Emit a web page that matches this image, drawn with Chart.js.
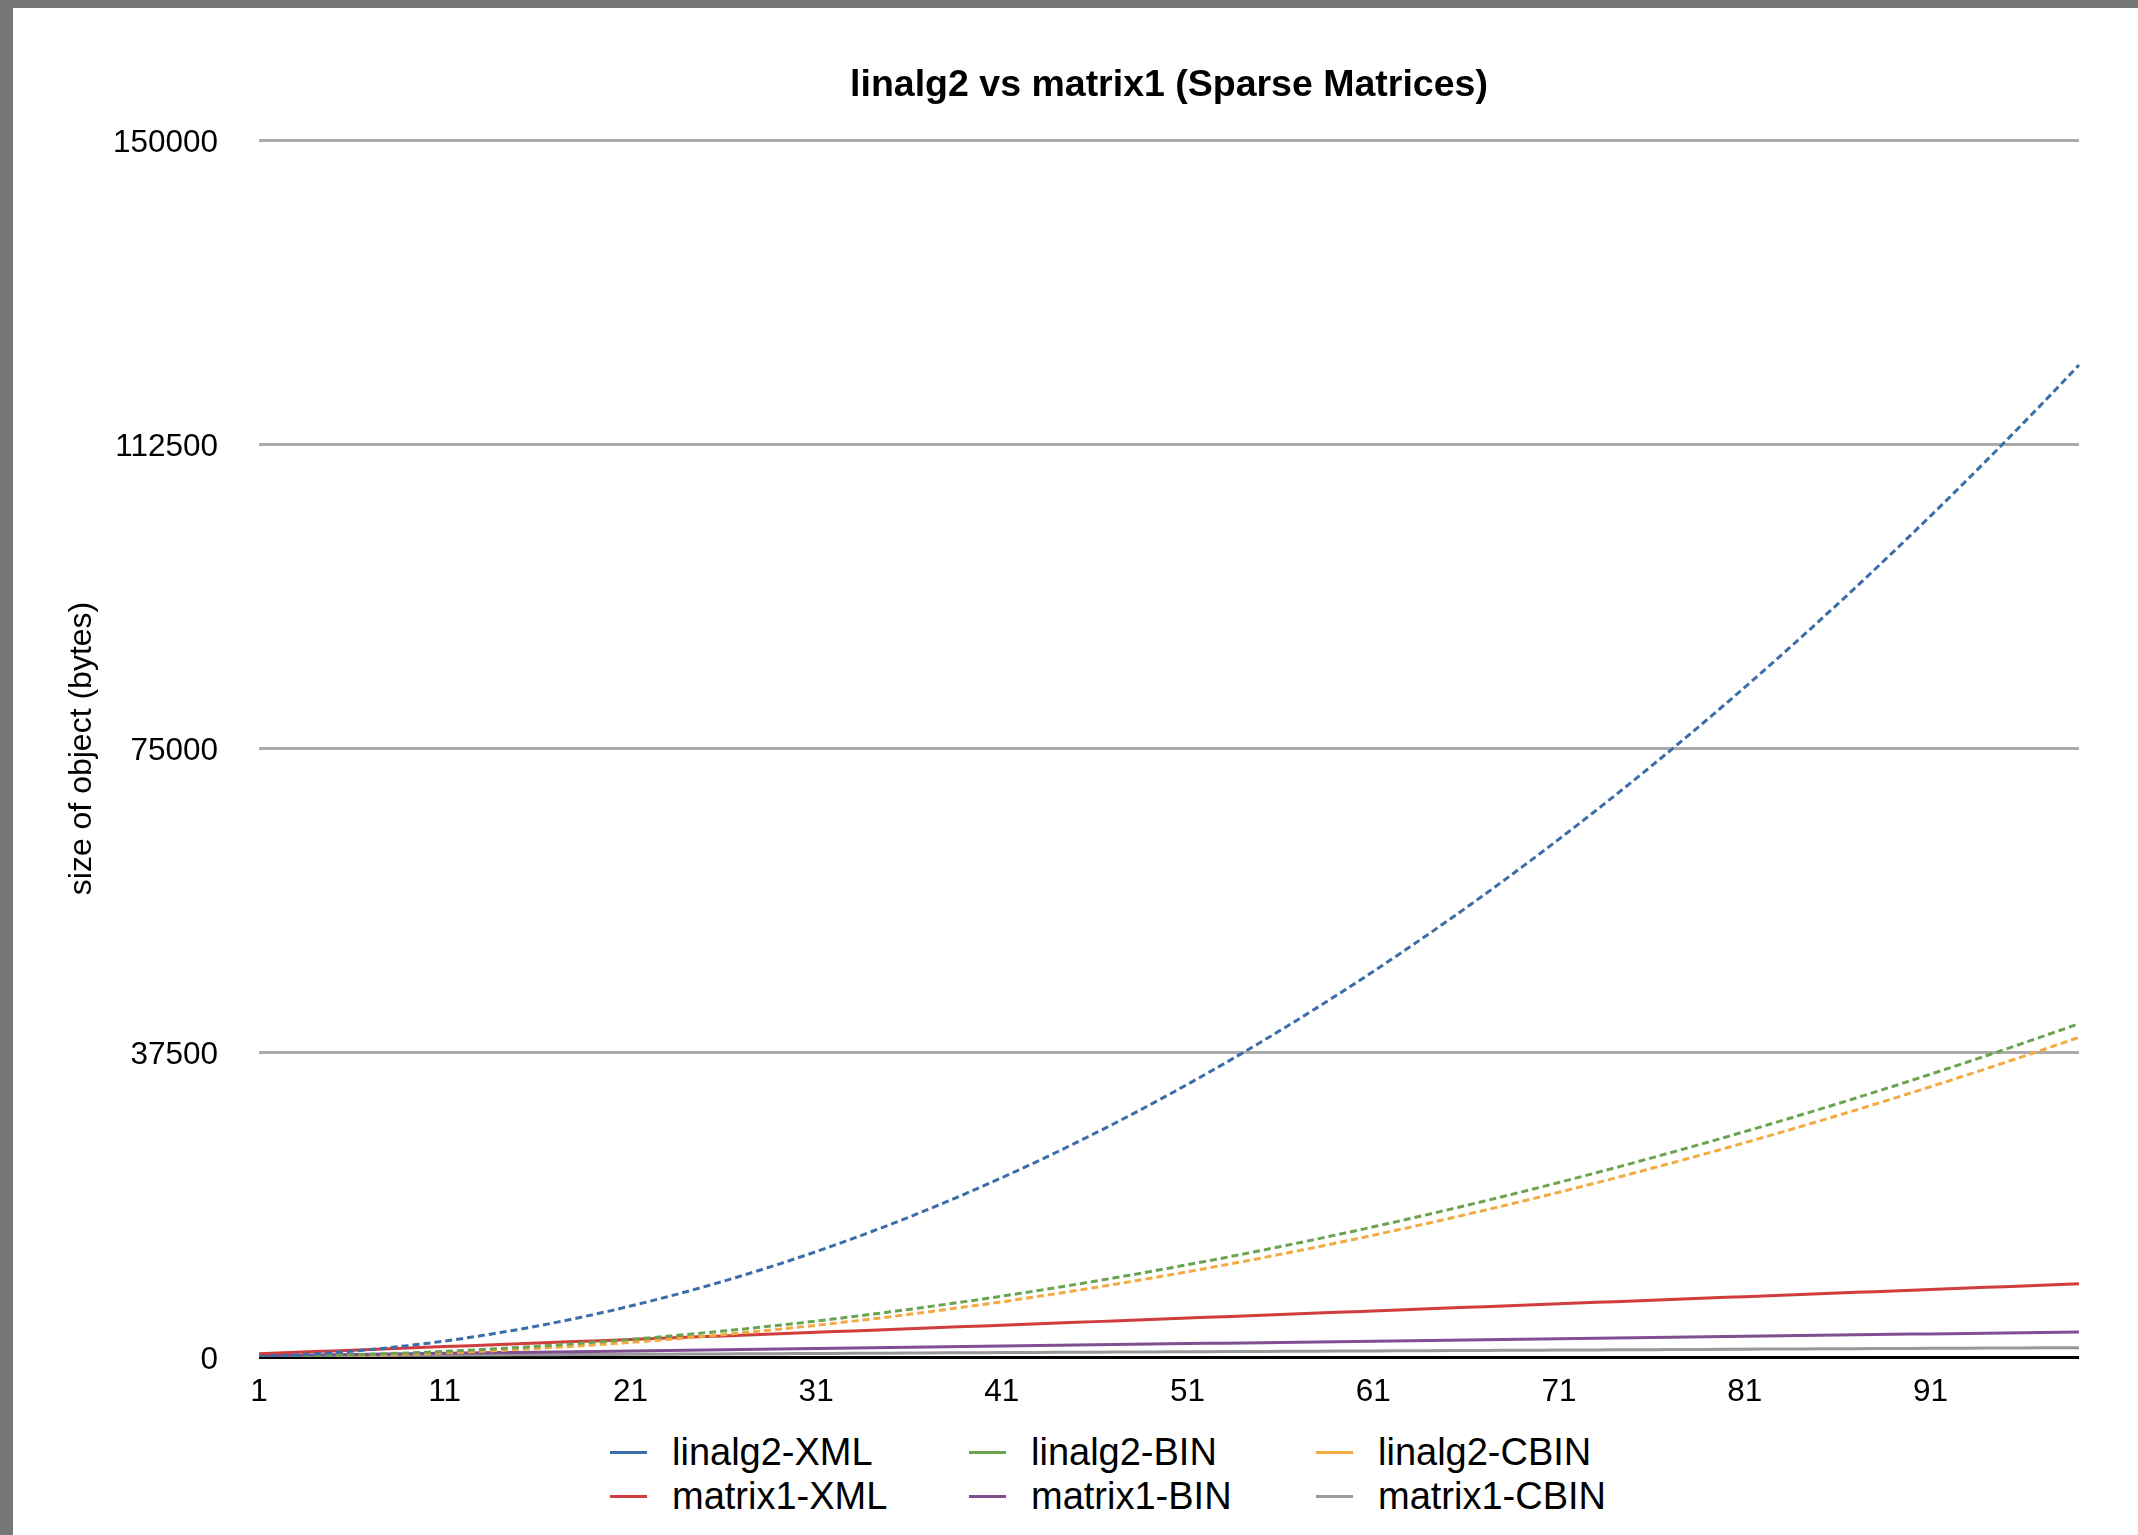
<!DOCTYPE html>
<html>
<head>
<meta charset="utf-8">
<title>linalg2 vs matrix1 (Sparse Matrices)</title>
<script src="https://cdn.jsdelivr.net/npm/chart.js@4.4.1/dist/chart.umd.min.js"></script>
<style>
    html, body { margin: 0; padding: 0; }
    body {
        width: 2138px;
        height: 1535px;
        overflow: hidden;
        position: relative;
        background: #777777;
        font-family: "Liberation Sans", Arial, Helvetica, sans-serif;
    }
    #panel {
        position: absolute;
        left: 13px;
        top: 8px;
        width: 2125px;
        height: 1527px;
        background: #ffffff;
    }
    #chart { position: absolute; left: 0; top: 0; }
    .legend-item {
        position: absolute;
        height: 44px;
        display: flex;
        align-items: center;
        font-size: 38px;
        color: #000;
        white-space: nowrap;
    }
    .legend-line {
        width: 37px;
        height: 3px;
        margin-right: 25px;
    }
</style>
</head>
<body>
<div id="panel">
    <canvas id="chart" width="2125" height="1415"></canvas>
    <div id="legend"></div>
</div>
<script>
const categories = [1,2,3,4,5,6,7,8,9,10,11,12,13,14,15,16,17,18,19,20,21,22,23,24,25,26,27,28,29,30,31,32,33,34,35,36,37,38,39,40,41,42,43,44,45,46,47,48,49,50,51,52,53,54,55,56,57,58,59,60,61,62,63,64,65,66,67,68,69,70,71,72,73,74,75,76,77,78,79,80,81,82,83,84,85,86,87,88,89,90,91,92,93,94,95,96,97,98,99];

const xTickLabels = [1, 11, 21, 31, 41, 51, 61, 71, 81, 91];
const yTicks = [0, 37500, 75000, 112500, 150000];

const linalg2Xml = [59,142,249,380,535,714,917,1144,1395,1670,1969,2292,2639,3010,3405,3824,4267,4734,5225,5740,6279,6842,7429,8040,8675,9334,10017,10724,11455,12210,12989,13792,14619,15470,16345,17244,18167,19114,20085,21080,22099,23142,24209,25300,26415,27554,28717,29904,31115,32350,33609,34892,36199,37530,38885,40264,41667,43094,44545,46020,47519,49042,50589,52160,53755,55374,57017,58684,60375,62090,63829,65592,67379,69190,71025,72884,74767,76674,78605,80560,82539,84542,86569,88620,90695,92794,94917,97064,99235,101430,103649,105892,108159,110450,112765,115104,117467,119854,122265];

const linalg2Bin = [23,54,93,140,195,258,329,408,495,590,693,804,923,1050,1185,1328,1479,1638,1805,1980,2163,2354,2553,2760,2975,3198,3429,3668,3915,4170,4433,4704,4983,5270,5565,5868,6179,6498,6825,7160,7503,7854,8213,8580,8955,9338,9729,10128,10535,10950,11373,11804,12243,12690,13145,13608,14079,14558,15045,15540,16043,16554,17073,17600,18135,18678,19229,19788,20355,20930,21513,22104,22703,23310,23925,24548,25179,25818,26465,27120,27783,28454,29133,29820,30515,31218,31929,32648,33375,34110,34853,35604,36363,37130,37905,38688,39479,40278,41085];

const linalg2Cbin = [6,20,42,72,110,156,210,272,342,420,506,600,702,812,930,1056,1190,1332,1482,1640,1806,1980,2162,2352,2550,2756,2970,3192,3422,3660,3906,4160,4422,4692,4970,5256,5550,5852,6162,6480,6806,7140,7482,7832,8190,8556,8930,9312,9702,10100,10506,10920,11342,11772,12210,12656,13110,13572,14042,14520,15006,15500,16002,16512,17030,17556,18090,18632,19182,19740,20306,20880,21462,22052,22650,23256,23870,24492,25122,25760,26406,27060,27722,28392,29070,29756,30450,31152,31862,32580,33306,34040,34782,35532,36290,37056,37830,38612,39402];

const matrix1Xml = [400,488,576,664,752,840,928,1016,1104,1192,1280,1368,1456,1544,1632,1720,1808,1896,1984,2072,2160,2248,2336,2424,2512,2600,2688,2776,2864,2952,3040,3128,3216,3304,3392,3480,3568,3656,3744,3832,3920,4008,4096,4184,4272,4360,4448,4536,4624,4712,4800,4888,4976,5064,5152,5240,5328,5416,5504,5592,5680,5768,5856,5944,6032,6120,6208,6296,6384,6472,6560,6648,6736,6824,6912,7000,7088,7176,7264,7352,7440,7528,7616,7704,7792,7880,7968,8056,8144,8232,8320,8408,8496,8584,8672,8760,8848,8936,9024];

const matrix1Bin = [150,180,210,240,270,300,330,360,390,420,450,480,510,540,570,600,630,660,690,720,750,780,810,840,870,900,930,960,990,1020,1050,1080,1110,1140,1170,1200,1230,1260,1290,1320,1350,1380,1410,1440,1470,1500,1530,1560,1590,1620,1650,1680,1710,1740,1770,1800,1830,1860,1890,1920,1950,1980,2010,2040,2070,2100,2130,2160,2190,2220,2250,2280,2310,2340,2370,2400,2430,2460,2490,2520,2550,2580,2610,2640,2670,2700,2730,2760,2790,2820,2850,2880,2910,2940,2970,3000,3030,3060,3090];

const matrix1Cbin = [120,131,141,152,162,173,183,194,204,215,225,236,246,257,267,278,288,299,309,320,330,341,351,362,372,383,393,404,414,425,435,446,456,467,477,488,498,509,519,530,540,551,561,572,582,593,603,614,624,635,645,656,666,677,687,698,708,719,729,740,750,761,771,782,792,803,813,824,834,845,855,866,876,887,897,908,918,929,939,950,960,971,981,992,1002,1013,1023,1034,1044,1055,1065,1076,1086,1097,1107,1118,1128,1139,1149];

const seriesNames = ['linalg2-XML', 'linalg2-BIN', 'linalg2-CBIN', 'matrix1-XML', 'matrix1-BIN', 'matrix1-CBIN'];
const seriesData = [linalg2Xml, linalg2Bin, linalg2Cbin, matrix1Xml, matrix1Bin, matrix1Cbin];
const seriesColors = ['#3b6ea8', '#6aa451', '#f2ab42', '#d13d3c', '#7f4f91', '#999999'];
const dotted = [true, true, true, false, false, false];

Chart.defaults.font.family = '"Liberation Sans", Arial, Helvetica, sans-serif';
Chart.defaults.color = '#000';

const datasets = seriesNames.map((name, i) => ({
    label: name,
    data: seriesData[i],
    borderColor: seriesColors[i],
    backgroundColor: seriesColors[i],
    borderWidth: 3,
    borderDash: dotted[i] ? [7, 4] : [],
    borderCapStyle: 'butt',
    pointRadius: 0,
    pointHoverRadius: 0,
    tension: 0,
    fill: false,
}));

const chart = new Chart(document.getElementById('chart'), {
    type: 'line',
    data: {
        labels: categories,
        datasets: datasets
    },
    options: {
        responsive: false,
        animation: false,
        events: [],
        layout: {
            padding: { left: 0, right: 59, top: 0, bottom: 6 }
        },
        plugins: {
            legend: { display: false },
            tooltip: { enabled: false },
            title: {
                display: true,
                fullSize: false,
                text: 'linalg2 vs matrix1 (Sparse Matrices)',
                font: { size: 37.5, weight: 'bold' },
                color: '#000',
                padding: { top: 55, bottom: 32 }
            }
        },
        scales: {
            x: {
                grid: { display: false },
                border: { display: false },
                afterFit: function (scale) { scale.height = 60; },
                ticks: {
                    autoSkip: false,
                    maxRotation: 0,
                    padding: 8,
                    font: { size: 31.5 },
                    color: '#000',
                    callback: function (value) {
                        const label = this.getLabelForValue(value);
                        return xTickLabels.includes(label) ? String(label) : '';
                    }
                }
            },
            y: {
                min: 0,
                max: 150000,
                afterFit: function (scale) { scale.width = 246; },
                afterBuildTicks: function (scale) {
                    scale.ticks = yTicks.map(v => ({ value: v }));
                },
                grid: {
                    drawTicks: false,
                    lineWidth: 3,
                    color: ctx => ctx.tick && ctx.tick.value === 0 ? '#000000' : '#ababab'
                },
                border: { display: false },
                ticks: {
                    padding: 41,
                    labelOffset: 3,
                    font: { size: 31.5 },
                    color: '#000',
                    callback: value => String(value)
                },
                title: {
                    display: true,
                    text: 'size of object (bytes)',
                    font: { size: 32 },
                    color: '#000',
                    padding: { top: 50, bottom: 0 }
                }
            }
        }
    }
});

// legend laid out as a 3 x 2 grid like the original
const legendCols = [597, 956, 1303];
const legendRows = [1422, 1466];
const legendEl = document.getElementById('legend');
chart.data.datasets.forEach((ds, i) => {
    const item = document.createElement('div');
    item.className = 'legend-item';
    item.style.left = legendCols[i % 3] + 'px';
    item.style.top = legendRows[Math.floor(i / 3)] + 'px';
    item.innerHTML = `<span class="legend-line" style="background:${ds.borderColor}"></span><span>${ds.label}</span>`;
    legendEl.appendChild(item);
});
</script>
</body>
</html>
